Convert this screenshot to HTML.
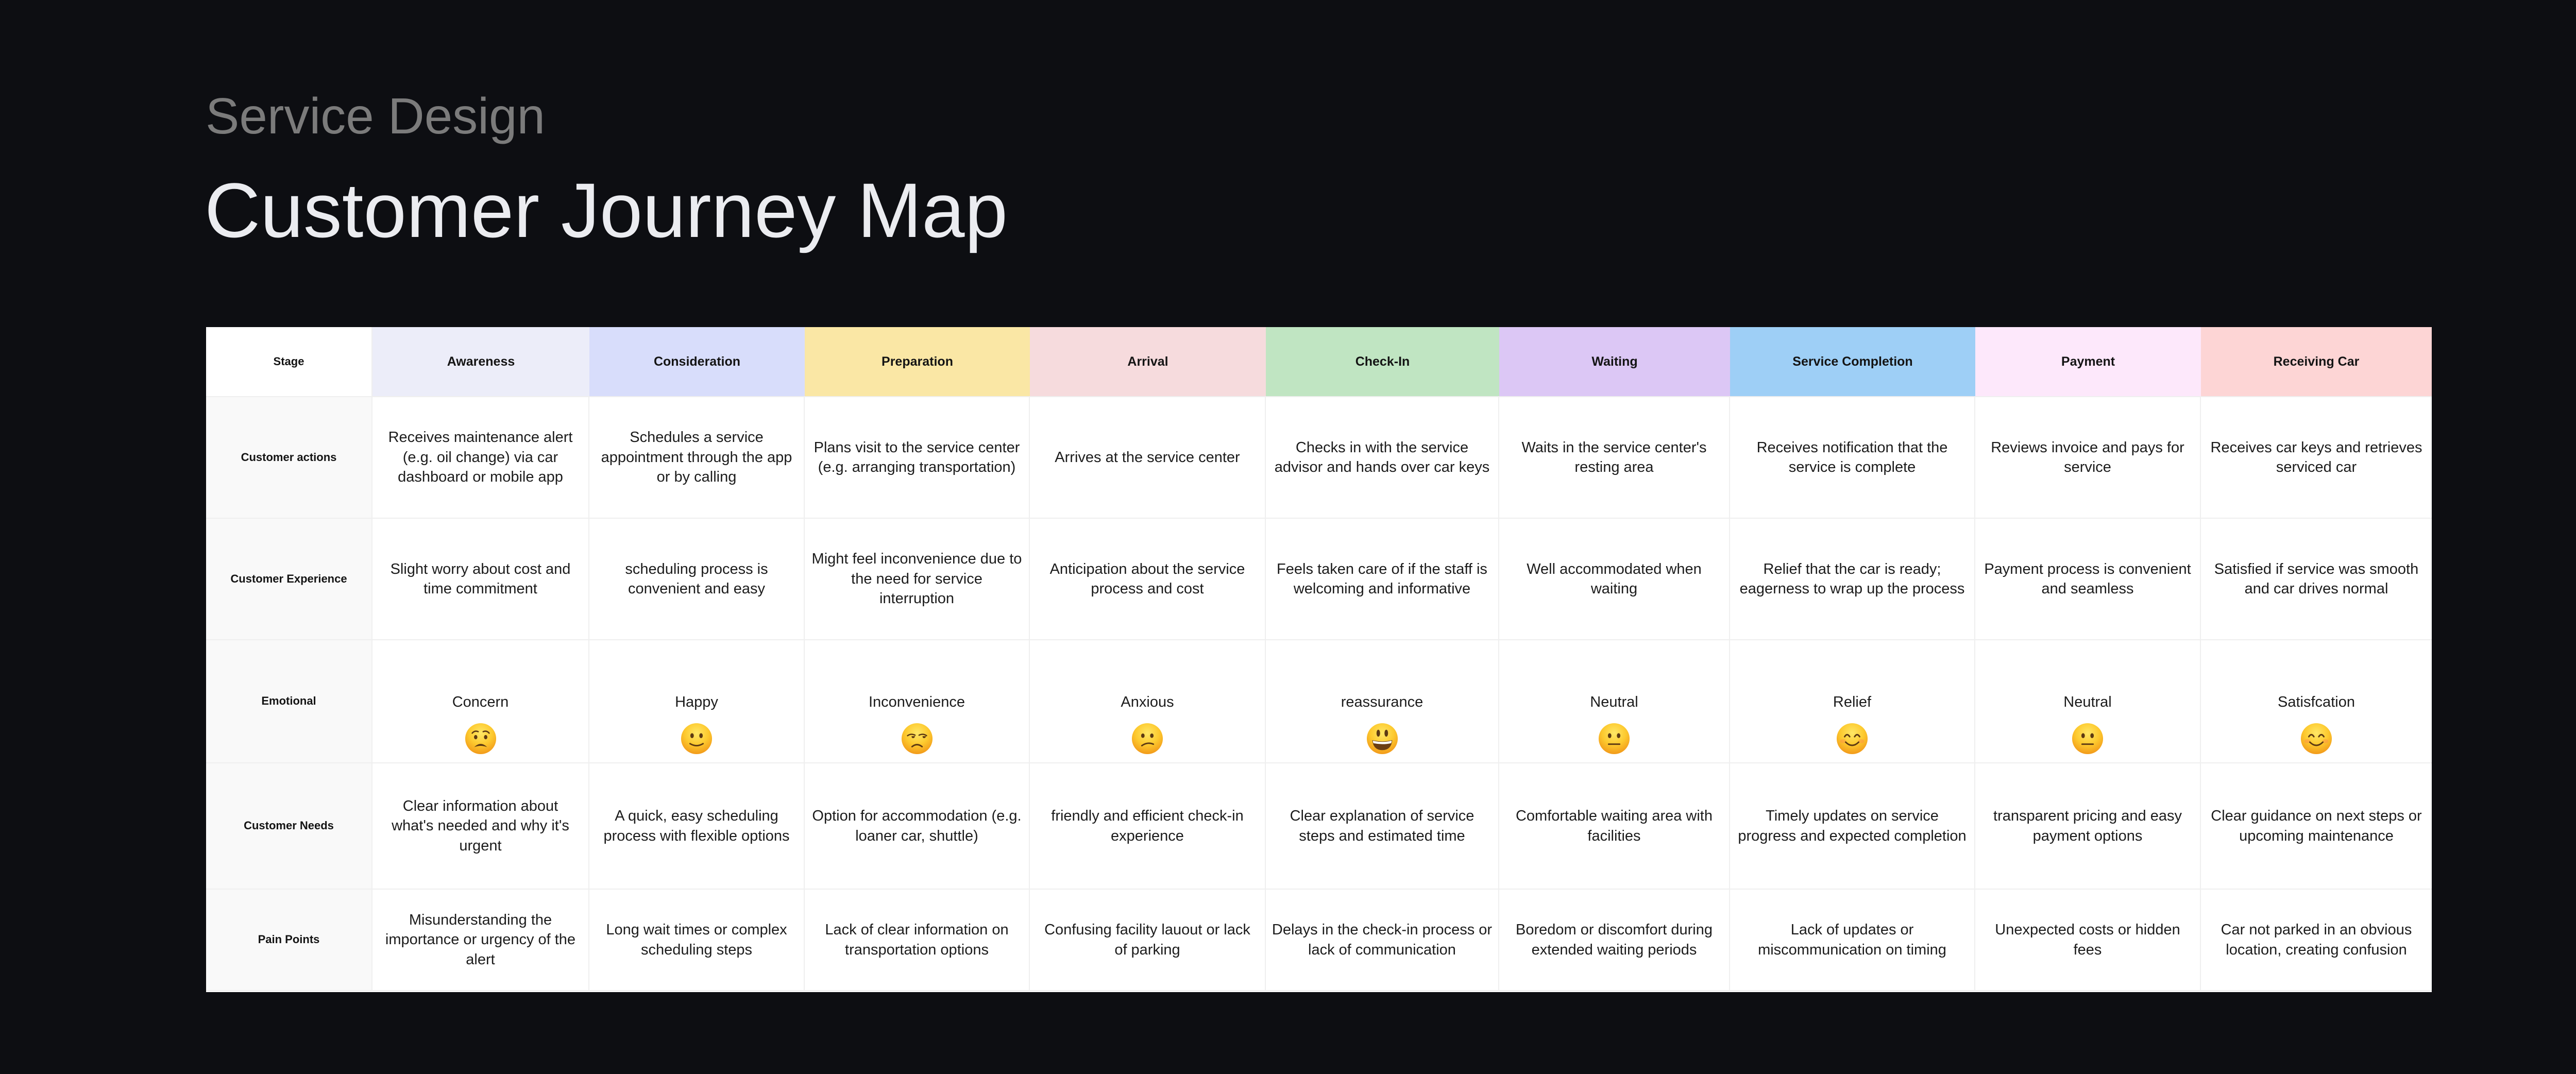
<!DOCTYPE html>
<html>
<head>
<meta charset="utf-8">
<style>
  html,body{margin:0;padding:0;}
  body{width:5120px;height:2085px;background:#0d0e12;position:relative;overflow:hidden;font-family:"Liberation Sans",Arial,sans-serif;}
  .sub{position:absolute;left:399px;top:176px;font-size:98px;line-height:98px;color:#7b7b7b;white-space:nowrap;}
  .title{position:absolute;left:397px;top:333px;font-size:150px;line-height:150px;color:#ebecf0;white-space:nowrap;}
  .tbl{position:absolute;left:400px;top:635px;width:4320px;height:1291px;background:#fff;display:grid;
    grid-template-columns:323px 421px 418px 437px 458px 453px 448px 476px 438px 448px;
    grid-template-rows:136px 236px 236px 239px 245px 197px;}
  .c{box-sizing:border-box;border-right:2px solid #efefef;border-bottom:2px solid #efefef;display:flex;align-items:center;justify-content:center;text-align:center;white-space:nowrap;font-size:29px;line-height:38.4px;color:#1c1c1c;position:relative;}
  .c.last{border-right:none;}
  .h{font-weight:bold;font-size:25px;color:#141414;border-right:none;}
  .l{font-weight:bold;font-size:22px;color:#141414;background:#f9f9f9;}
  .l.st{background:#fff;}
  .emo .t{position:absolute;left:0;right:0;top:101px;line-height:38.4px;text-align:center;}
  .emo svg{position:absolute;left:50%;top:160px;width:62px;height:62px;margin-left:-31px;}
</style>
</head>
<body>
<svg width="0" height="0" style="position:absolute">
  <defs>
    <radialGradient id="fg" cx="50%" cy="32%" r="68%">
      <stop offset="0" stop-color="#ffe766"/>
      <stop offset="0.55" stop-color="#fdca2f"/>
      <stop offset="1" stop-color="#f29a1a"/>
    </radialGradient>
    <symbol id="face" viewBox="0 0 64 64"><circle cx="32" cy="32" r="31" fill="url(#fg)"/></symbol>
  </defs>
</svg>

<div class="sub">Service Design</div>
<div class="title">Customer Journey Map</div>

<div class="tbl">
  <!-- header -->
  <div class="c l st">Stage</div>
  <div class="c h" style="background:#ecedf9">Awareness</div>
  <div class="c h" style="background:#d8ddfb">Consideration</div>
  <div class="c h" style="background:#fae7a5">Preparation</div>
  <div class="c h" style="background:#f6dbdd">Arrival</div>
  <div class="c h" style="background:#c0e5c2">Check-In</div>
  <div class="c h" style="background:#dcc7f5">Waiting</div>
  <div class="c h" style="background:#9ecff6">Service Completion</div>
  <div class="c h" style="background:#fde8fb">Payment</div>
  <div class="c h last" style="background:#fdd5d5">Receiving Car</div>

  <!-- customer actions -->
  <div class="c l">Customer actions</div>
  <div class="c">Receives maintenance alert<br>(e.g. oil change) via car<br>dashboard or mobile app</div>
  <div class="c">Schedules a service<br>appointment through the app<br>or by calling</div>
  <div class="c">Plans visit to the service center<br>(e.g. arranging transportation)</div>
  <div class="c">Arrives at the service center</div>
  <div class="c">Checks in with the service<br>advisor and hands over car keys</div>
  <div class="c">Waits in the service center's<br>resting area</div>
  <div class="c">Receives notification that the<br>service is complete</div>
  <div class="c">Reviews invoice and pays for<br>service</div>
  <div class="c last">Receives car keys and retrieves<br>serviced car</div>

  <!-- customer experience -->
  <div class="c l">Customer Experience</div>
  <div class="c">Slight worry about cost and<br>time commitment</div>
  <div class="c">scheduling process is<br>convenient and easy</div>
  <div class="c">Might feel inconvenience due to<br>the need for service<br>interruption</div>
  <div class="c">Anticipation about the service<br>process and cost</div>
  <div class="c">Feels taken care of if the staff is<br>welcoming and informative</div>
  <div class="c">Well accommodated when<br>waiting</div>
  <div class="c">Relief that the car is ready;<br>eagerness to wrap up the process</div>
  <div class="c">Payment process is convenient<br>and seamless</div>
  <div class="c last">Satisfied if service was smooth<br>and car drives normal</div>

  <!-- emotional -->
  <div class="c l">Emotional</div>
  <div class="c emo"><div class="t">Concern</div>
    <svg viewBox="0 0 64 64"><use href="#face"/>
      <path d="M15 21 Q20 15 27 18" stroke="#5d3a13" stroke-width="2.6" fill="none" stroke-linecap="round"/>
      <path d="M37 18 Q44 15 49 21" stroke="#5d3a13" stroke-width="2.6" fill="none" stroke-linecap="round"/>
      <ellipse cx="22" cy="29" rx="3.4" ry="4.3" fill="#5d3a13"/><ellipse cx="42" cy="29" rx="3.4" ry="4.3" fill="#5d3a13"/>
      <path d="M19 49 Q32 36 45 49 Q32 44 19 49Z" fill="#5d3a13"/>
    </svg></div>
  <div class="c emo"><div class="t">Happy</div>
    <svg viewBox="0 0 64 64"><use href="#face"/>
      <ellipse cx="23" cy="26" rx="3.5" ry="5" fill="#5d3a13"/><ellipse cx="41" cy="26" rx="3.5" ry="5" fill="#5d3a13"/>
      <path d="M19 42 Q32 50 45 42" stroke="#5d3a13" stroke-width="3" fill="none" stroke-linecap="round"/>
    </svg></div>
  <div class="c emo"><div class="t">Inconvenience</div>
    <svg viewBox="0 0 64 64"><use href="#face"/>
      <path d="M13 26 Q20 21 28 25" stroke="#5d3a13" stroke-width="2.6" fill="none" stroke-linecap="round"/>
      <path d="M36 25 Q44 21 51 26" stroke="#5d3a13" stroke-width="2.6" fill="none" stroke-linecap="round"/>
      <path d="M21 27 Q26 27 28 27 Q27 31 24 31 Q21 31 21 27Z" fill="#5d3a13"/>
      <path d="M43 27 Q48 27 50 27 Q49 31 46 31 Q43 31 43 27Z" fill="#5d3a13"/>
      <path d="M22 48 Q32 40 42 48" stroke="#5d3a13" stroke-width="3" fill="none" stroke-linecap="round"/>
    </svg></div>
  <div class="c emo"><div class="t">Anxious</div>
    <svg viewBox="0 0 64 64"><use href="#face"/>
      <ellipse cx="23" cy="26" rx="3.5" ry="4.5" fill="#5d3a13"/><ellipse cx="41" cy="26" rx="3.5" ry="4.5" fill="#5d3a13"/>
      <path d="M21 46 Q32 38 44 43" stroke="#5d3a13" stroke-width="3" fill="none" stroke-linecap="round"/>
    </svg></div>
  <div class="c emo"><div class="t">reassurance</div>
    <svg viewBox="0 0 64 64"><use href="#face"/>
      <ellipse cx="24" cy="21" rx="3.6" ry="7" fill="#5d3a13"/><ellipse cx="40" cy="21" rx="3.6" ry="7" fill="#5d3a13"/>
      <path d="M12 35 Q32 40 52 35 Q50 55 32 55 Q14 55 12 35Z" fill="#6b3d13"/>
      <path d="M13 36 Q32 41 51 36 L50 41 Q32 45 14 41Z" fill="#ffffff"/>
    </svg></div>
  <div class="c emo"><div class="t">Neutral</div>
    <svg viewBox="0 0 64 64"><use href="#face"/>
      <ellipse cx="23" cy="26" rx="3.5" ry="5" fill="#5d3a13"/><ellipse cx="41" cy="26" rx="3.5" ry="5" fill="#5d3a13"/>
      <path d="M21 43 H43" stroke="#5d3a13" stroke-width="3" stroke-linecap="round"/>
    </svg></div>
  <div class="c emo"><div class="t">Relief</div>
    <svg viewBox="0 0 64 64"><use href="#face"/>
      <ellipse cx="14" cy="37" rx="6" ry="4" fill="#ff7a52" opacity="0.35"/><ellipse cx="50" cy="37" rx="6" ry="4" fill="#ff7a52" opacity="0.35"/>
      <path d="M17 28 Q22 20 27 28" stroke="#5d3a13" stroke-width="3" fill="none" stroke-linecap="round"/>
      <path d="M37 28 Q42 20 47 28" stroke="#5d3a13" stroke-width="3" fill="none" stroke-linecap="round"/>
      <path d="M19 39 Q32 52 45 39" stroke="#5d3a13" stroke-width="3" fill="none" stroke-linecap="round"/>
    </svg></div>
  <div class="c emo"><div class="t">Neutral</div>
    <svg viewBox="0 0 64 64"><use href="#face"/>
      <ellipse cx="23" cy="26" rx="3.5" ry="5" fill="#5d3a13"/><ellipse cx="41" cy="26" rx="3.5" ry="5" fill="#5d3a13"/>
      <path d="M21 43 H43" stroke="#5d3a13" stroke-width="3" stroke-linecap="round"/>
    </svg></div>
  <div class="c emo last"><div class="t">Satisfcation</div>
    <svg viewBox="0 0 64 64"><use href="#face"/>
      <ellipse cx="14" cy="37" rx="6" ry="4" fill="#ff7a52" opacity="0.35"/><ellipse cx="50" cy="37" rx="6" ry="4" fill="#ff7a52" opacity="0.35"/>
      <path d="M17 28 Q22 20 27 28" stroke="#5d3a13" stroke-width="3" fill="none" stroke-linecap="round"/>
      <path d="M37 28 Q42 20 47 28" stroke="#5d3a13" stroke-width="3" fill="none" stroke-linecap="round"/>
      <path d="M19 39 Q32 52 45 39" stroke="#5d3a13" stroke-width="3" fill="none" stroke-linecap="round"/>
    </svg></div>

  <!-- customer needs -->
  <div class="c l">Customer Needs</div>
  <div class="c">Clear information about<br>what's needed and why it's<br>urgent</div>
  <div class="c">A quick, easy scheduling<br>process with flexible options</div>
  <div class="c">Option for accommodation (e.g.<br>loaner car, shuttle)</div>
  <div class="c">friendly and efficient check-in<br>experience</div>
  <div class="c">Clear explanation of service<br>steps and estimated time</div>
  <div class="c">Comfortable waiting area with<br>facilities</div>
  <div class="c">Timely updates on service<br>progress and expected completion</div>
  <div class="c">transparent pricing and easy<br>payment options</div>
  <div class="c last">Clear guidance on next steps or<br>upcoming maintenance</div>

  <!-- pain points -->
  <div class="c l">Pain Points</div>
  <div class="c">Misunderstanding the<br>importance or urgency of the<br>alert</div>
  <div class="c">Long wait times or complex<br>scheduling steps</div>
  <div class="c">Lack of clear information on<br>transportation options</div>
  <div class="c">Confusing facility lauout or lack<br>of parking</div>
  <div class="c">Delays in the check-in process or<br>lack of communication</div>
  <div class="c">Boredom or discomfort during<br>extended waiting periods</div>
  <div class="c">Lack of updates or<br>miscommunication on timing</div>
  <div class="c">Unexpected costs or hidden<br>fees</div>
  <div class="c last">Car not parked in an obvious<br>location, creating confusion</div>
</div>
</body>
</html>
